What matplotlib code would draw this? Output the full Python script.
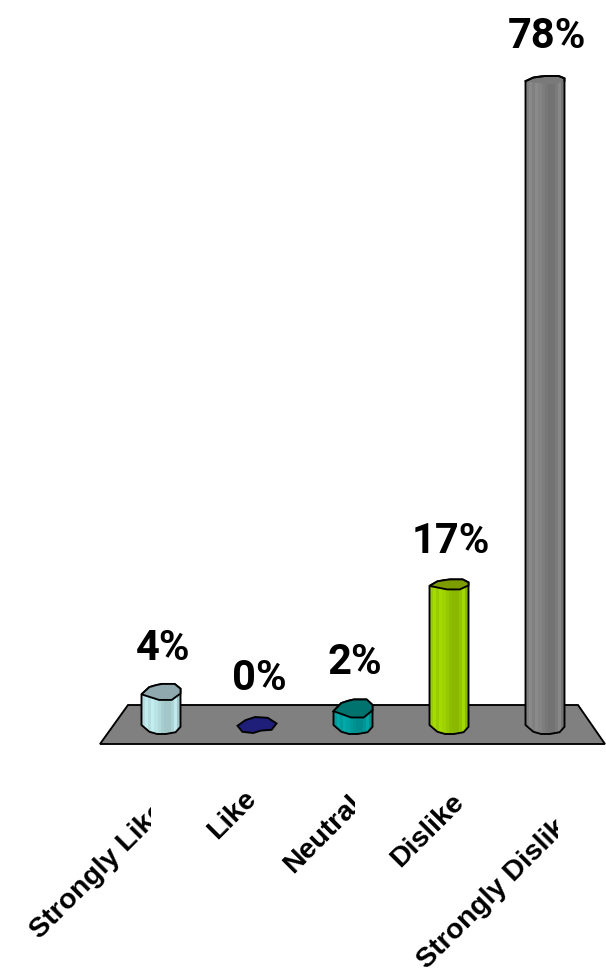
import matplotlib
matplotlib.use("Agg")
import matplotlib.pyplot as plt
from matplotlib.patches import Polygon, Rectangle
from matplotlib.colors import to_rgb

categories = ["Strongly Like", "Like", "Neutral", "Dislike", "Strongly Dislike"]
values = [4, 0, 2, 17, 78]
value_labels = ["4%", "0%", "2%", "17%", "78%"]
body_colors = ["#B5DCDF", "#1F1F7A", "#009C9C", "#99CC00", "#808080"]
cap_colors = ["#8FA9AE", "#1F1F7A", "#00736F", "#7C9C00", "#7A7A7A"]

W, H = 606, 968
X0, DX = 161.0, 96.0          # pixel of first category, pixels per category
Y0, DY = 725.0, 8.27          # pixel of 0 %, pixels per percent
cap_half = [8, 8, 9, 5, 4]    # perspective of the cap, in pixels
label_offset = [31, 33.7, 33, 31, 31.5]
half_w = 19.5
LW = 1.35

fig = plt.figure(figsize=(W / 100, H / 100), dpi=100)
ax = fig.add_axes([0, 0, 1, 1])
ax.set_xlim(-X0 / DX, (W - X0) / DX)
ax.set_ylim((Y0 - H) / DY, Y0 / DY)
ax.axis("off")


def px(cx, cy, dx, dy):
    """data position for a pixel offset from (cx, cy)"""
    return (cx + dx / DX, cy - dy / DY)


def ppos(x, y):
    """data position of a figure pixel"""
    return ((x - X0) / DX, (Y0 - y) / DY)


# floor
ax.add_patch(Polygon([ppos(100, 744), ppos(605, 744), ppos(578, 705), ppos(128, 705)],
                     closed=True, fc="#808080", ec="black", lw=LW, zorder=1))

back = [(-1, .3), (-.6, -.6), (-.25, -.85), (.05, -1), (.7, -1), (1, -.4), (1, .2)]
front = [(1, .2), (.55, 1), (-.1, 1), (-1, .3)]
base = [(-1, .0), (-.6, .75), (-.2, 1), (.25, 1), (.75, .8), (1, .2)]
blob = [(-1, .1), (-.6, -.6), (-.1, -1), (.55, -.9), (1, -.2), (.75, .6), (.2, .7), (-.2, 1), (-.75, .85)]
shades = [1.0, 1.07, 1.0, 1.08, 1.03, 0.98, 0.93, 0.9, 0.9, 0.96, 1.06, 0.9]

for i, (v, bc, cc, ch) in enumerate(zip(values, body_colors, cap_colors, cap_half)):
    ax.annotate(value_labels[i], (i, v), xytext=(1.5, label_offset[i]), textcoords="offset points",
                ha="center", va="center", fontsize=30, fontweight="bold",
                family="Roboto", color="black")
    if v == 0:
        pts = [px(i, v, half_w * u, ch * w) for u, w in blob]
        ax.add_patch(Polygon(pts, closed=True, fc=cc, ec="black", lw=LW, zorder=4))
        continue
    body = [px(i, 0, half_w * u, 9 * w) for u, w in base]
    body = body + [px(i, v, half_w * u, ch * w) for u, w in back[::-1]]
    poly = Polygon(body, closed=True, fc="none", ec="black", lw=LW, zorder=3)
    ax.add_patch(poly)
    sw = 2 * half_w / DX / len(shades)
    rgb = to_rgb(bc)
    for k, s in enumerate(shades):
        col = tuple(min(1, c * s) for c in rgb)
        b = ax.bar(i - half_w / DX + (k + .5) * sw, v + 3, width=sw * 1.02, bottom=-3,
                   color=col, lw=0, zorder=2)
        b[0].set_clip_path(poly)
    cap = back + front[1:-1]
    cap_pts = [px(i, v, half_w * u, ch * w) for u, w in cap]
    if i == 4:
        ax.add_patch(Polygon(cap_pts, closed=True, fc=cc, ec="none", zorder=2.5))
        ax.plot(*zip(*[px(i, v, half_w * u, ch * w) for u, w in back]),
                color="black", lw=LW, zorder=4)
    else:
        ax.add_patch(Polygon(cap_pts, closed=True, fc=cc, ec="black", lw=LW, zorder=4))

# rotated category labels, clipped on the right as in the source
starts_x = [40, 217, 293, 400, 427]
starts_y = [940, 840, 874, 868, 970]
clip_x = [151, 260, 355, 470, 558]
for i, c in enumerate(categories):
    t = ax.text(*ppos(starts_x[i], starts_y[i]), c, rotation=45, rotation_mode="anchor",
                ha="left", va="baseline", fontsize=20.5, fontweight="bold",
                family="Liberation Sans", color="black")
    t.set_clip_path(Rectangle((0, 0), clip_x[i], H, transform=None))
    t.set_clip_on(True)

fig.savefig("out.png", dpi=100, facecolor="white")
